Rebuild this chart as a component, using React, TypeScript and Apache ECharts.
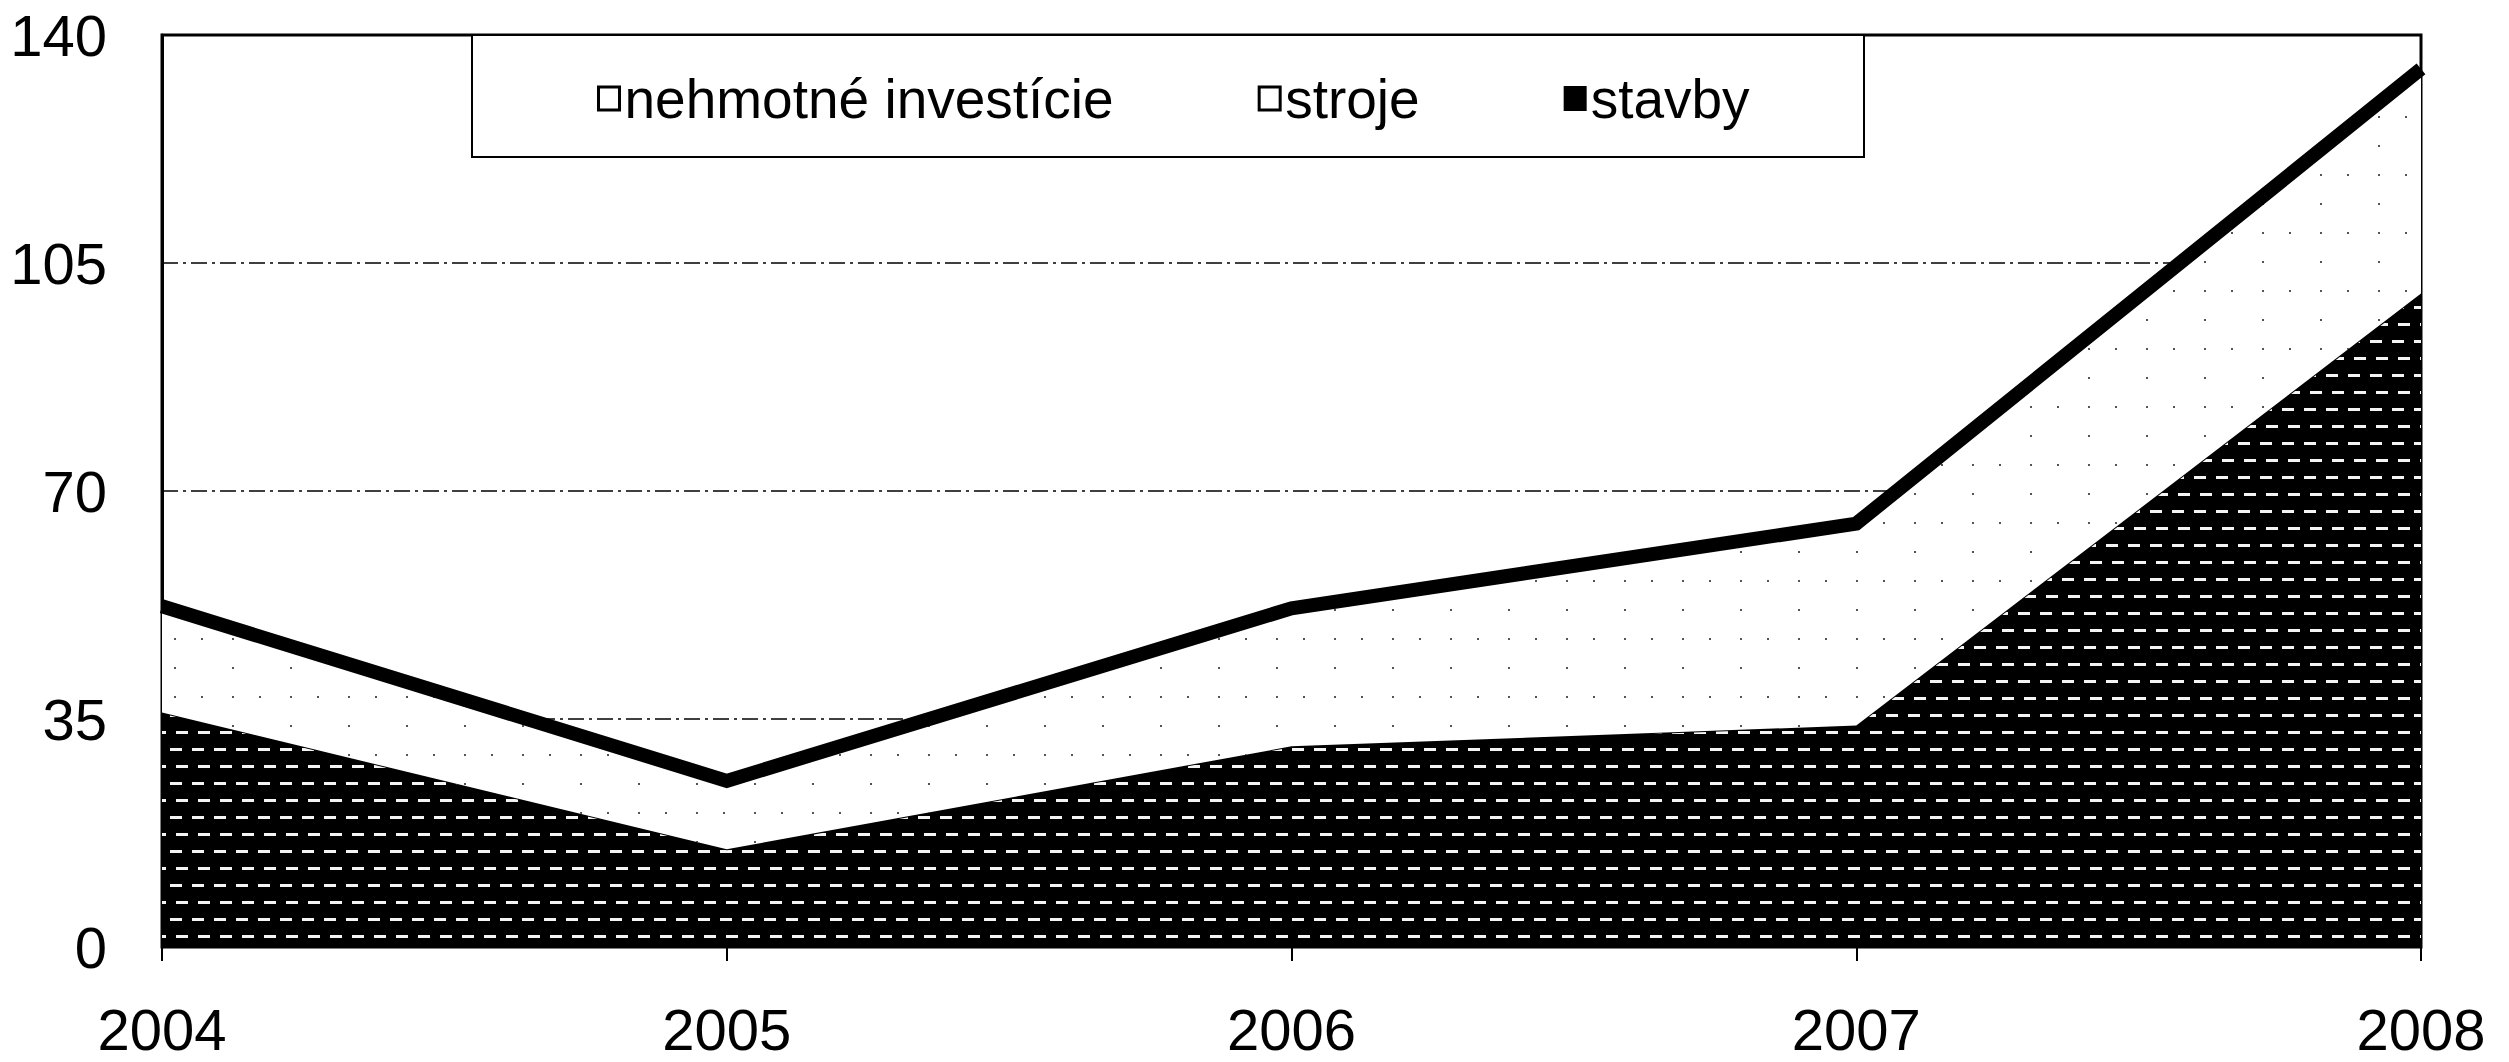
import React, { useEffect, useRef } from "react";
import * as echarts from "echarts";

const years = ["2004", "2005", "2006", "2007", "2008"];
const stavby = [36, 15, 30.8, 34, 100.3];
const stroje = [15.3, 9.5, 20.2, 30, 33.5];
const nehmotne = [1, 1, 1, 1, 1];
const yTicks = { min: 0, max: 140, interval: 35 };

const FONT = "'Liberation Sans', Arial, Helvetica, sans-serif";

export default function App() {
  const ref = useRef<HTMLDivElement>(null);
  useEffect(() => {
    if (!ref.current) return;
    const chart = echarts.init(ref.current, undefined, { renderer: "svg" });
    chart.setOption({
      animation: false,
      backgroundColor: "#fff",
      textStyle: { fontFamily: FONT },
      grid: {
        left: 162,
        right: 88,
        top: 35,
        bottom: 115,
        containLabel: false,
        outerBoundsMode: "none",
        show: true,
        borderColor: "#000",
        borderWidth: 3,
        backgroundColor: "#fff",
      },
      graphic: [
        {
          type: "rect",
          z: 8,
          shape: { x: 472, y: 35, width: 1392, height: 122 },
          style: { fill: "#fff", stroke: "#000", lineWidth: 2 },
        },
      ],
      legend: {
        z: 10,
        left: 597,
        top: 71,
        padding: 0,
        itemWidth: 21,
        itemHeight: 23,
        itemGap: 144,
        textStyle: { fontSize: 55, color: "#000", fontFamily: FONT },
        data: [
          { name: "nehmotné investície", icon: "rect", itemStyle: { color: "#fff", borderColor: "#000", borderWidth: 3, decal: "none" } },
          { name: "stroje", icon: "rect", itemStyle: { color: "#fff", borderColor: "#000", borderWidth: 3, decal: "none" } },
          { name: "stavby", icon: "rect", itemStyle: { color: "#000", borderColor: "#000", borderWidth: 2, decal: "none" } },
        ],
      },
      xAxis: {
        type: "category",
        data: years,
        boundaryGap: false,
        axisLine: { show: true, lineStyle: { color: "#000", width: 2 } },
        axisTick: { show: true, length: 14, lineStyle: { color: "#000", width: 2 } },
        axisLabel: { fontSize: 58, color: "#000", margin: 53, fontFamily: FONT },
        splitLine: { show: false },
      },
      yAxis: {
        type: "value",
        min: yTicks.min,
        max: yTicks.max,
        interval: yTicks.interval,
        axisLine: { show: true, lineStyle: { color: "#000", width: 3 } },
        axisTick: { show: false },
        axisLabel: { fontSize: 58, color: "#000", margin: 55, fontFamily: FONT },
        splitLine: { show: true, lineStyle: { color: "#000", width: 1.5, type: [16, 5, 3, 5] } },
      },
      series: [
        {
          name: "stavby",
          type: "line",
          stack: "total",
          data: stavby,
          showSymbol: false,
          symbol: "none",
          lineStyle: { width: 2, color: "#000" },
          itemStyle: {
            color: "#000",
            decal: {
              symbol: "rect",
              symbolSize: 1,
              color: "#f4f4f4",
              dashArrayX: [[12, 10], [6, 10, 6, 0]],
              dashArrayY: [3, 14],
              rotation: 0,
            },
          },
          areaStyle: { color: "#000", opacity: 1 },
          z: 2,
        },
        {
          name: "stroje",
          type: "line",
          stack: "total",
          data: stroje,
          showSymbol: false,
          symbol: "none",
          lineStyle: { width: 0, color: "#fff" },
          itemStyle: {
            color: "#fff",
            decal: {
              symbol: "rect",
              symbolSize: 1,
              color: "#555",
              dashArrayX: [[2, 56], [2, 25, 2, 29]],
              dashArrayY: [2, 27],
              rotation: 0,
            },
          },
          areaStyle: { color: "#fff", opacity: 1 },
          z: 3,
        },
        {
          name: "nehmotné investície",
          type: "line",
          stack: "total",
          data: nehmotne,
          showSymbol: false,
          symbol: "none",
          lineStyle: { width: 14, color: "#000", cap: "butt", join: "miter" },
          itemStyle: { color: "#fff" },
          areaStyle: { color: "#fff", opacity: 1 },
          z: 4,
        },
      ],
    });
    return () => chart.dispose();
  }, []);
  return (
    <div
      ref={ref}
      style={{ position: "absolute", left: 0, top: 0, width: 2509, height: 1062 }}
    />
  );
}
